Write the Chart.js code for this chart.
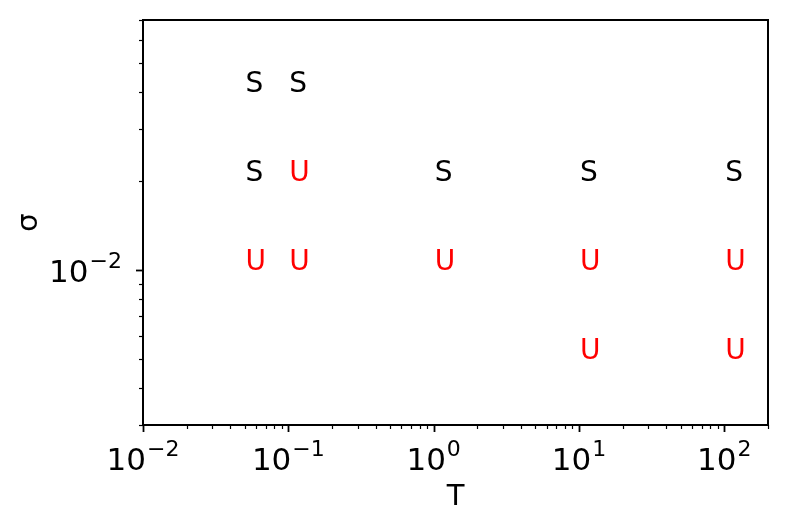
<!DOCTYPE html>
<html>
<head>
<meta charset="utf-8">
<script src="https://cdn.jsdelivr.net/npm/chart.js@4.4.0/dist/chart.umd.min.js"></script>
<style>
  html, body { margin: 0; padding: 0; background: #fff; }
  #wrap { width: 789px; height: 523px; }
</style>
</head>
<body>
<div id="wrap"><canvas id="chart" width="789" height="523"></canvas></div>
<script>
// stable runs ("S")
const stableT = [0.05, 0.1, 0.05, 1, 10, 100];
const stableSigma = [0.04, 0.04, 0.02, 0.02, 0.02, 0.02];
// unstable runs ("U")
const unstableT = [0.1, 0.05, 0.1, 1, 10, 100, 10, 100];
const unstableSigma = [0.02, 0.01, 0.01, 0.01, 0.01, 0.01, 0.005, 0.005];
// axis limits and labelled decades
const xLimits = [0.01, 200];
const yLimits = [0.003, 0.07];
const xTickExponents = [-2, -1, 0, 1, 2];
const yTickExponents = [-2];

const FONT = '"DejaVu Sans", sans-serif';

function drawPow(ctx, exp, x, y, align) {
    const base = '10';
    const sup = exp < 0 ? '\u2212' + Math.abs(exp) : String(exp);
    ctx.font = '31px ' + FONT;
    const wb = ctx.measureText(base).width;
    ctx.font = '22px ' + FONT;
    const ws = ctx.measureText(sup).width;
    const total = wb + ws + 1;
    let left = x;
    if (align === 'center') left = x - total / 2;
    else if (align === 'right') left = x - total;
    ctx.textAlign = 'left';
    ctx.textBaseline = 'alphabetic';
    ctx.fillStyle = '#000';
    ctx.font = '31px ' + FONT;
    ctx.fillText(base, left, y);
    ctx.font = '22px ' + FONT;
    ctx.fillText(sup, left + wb + 1, y - 14);
}

const axesPlugin = {
    id: 'mplAxes',
    afterDraw: (chart) => {
        const ctx = chart.ctx;
        const area = chart.chartArea;
        const xs = chart.scales.x;
        const ys = chart.scales.y;
        ctx.save();

        // text markers
        chart.data.datasets.forEach((ds) => {
            ctx.font = '28px ' + FONT;
            ctx.fillStyle = ds.textColor;
            ctx.textAlign = 'left';
            ctx.textBaseline = 'alphabetic';
            ds.data.forEach((p) => {
                ctx.fillText(ds.label, xs.getPixelForValue(p.x) + 1, ys.getPixelForValue(p.y));
            });
        });

        // ticks
        ctx.strokeStyle = '#000';
        for (let d = -3; d <= 2; d++) {
            for (let k = 1; k <= 9; k++) {
                const v = k * Math.pow(10, d);
                const major = k === 1;
                ctx.lineWidth = major ? 1.8 : 1.2;
                const len = major ? 7 : 4;
                if (v >= xLimits[0] && v <= xLimits[1]) {
                    const px = Math.round(xs.getPixelForValue(v)) + 0.5;
                    ctx.beginPath();
                    ctx.moveTo(px, area.bottom);
                    ctx.lineTo(px, area.bottom + len);
                    ctx.stroke();
                }
                if (v >= yLimits[0] && v <= yLimits[1]) {
                    const py = Math.round(ys.getPixelForValue(v)) + 0.5;
                    ctx.beginPath();
                    ctx.moveTo(area.left, py);
                    ctx.lineTo(area.left - len, py);
                    ctx.stroke();
                }
            }
        }

        // frame
        ctx.lineWidth = 2;
        ctx.strokeRect(area.left, area.top, area.right - area.left, area.bottom - area.top);

        // tick labels
        xTickExponents.forEach((e) => {
            drawPow(ctx, e, xs.getPixelForValue(Math.pow(10, e)), area.bottom + 45, 'center');
        });
        yTickExponents.forEach((e) => {
            drawPow(ctx, e, area.left - 21, ys.getPixelForValue(Math.pow(10, e)) + 12, 'right');
        });

        // axis titles
        ctx.fillStyle = '#000';
        ctx.font = '29px ' + FONT;
        ctx.textAlign = 'center';
        ctx.textBaseline = 'alphabetic';
        ctx.fillText('T', (area.left + area.right) / 2, 505);
        ctx.translate(37, (area.top + area.bottom) / 2);
        ctx.rotate(-Math.PI / 2);
        ctx.fillText('\u03c3', 0, 0);
        ctx.restore();
    }
};

const toPoints = (xsArr, ysArr) => xsArr.map((x, i) => ({ x: x, y: ysArr[i] }));

new Chart(document.getElementById('chart').getContext('2d'), {
    type: 'scatter',
    data: {
        datasets: [
            {
                label: 'S',
                data: toPoints(stableT, stableSigma),
                textColor: '#000000',
                pointRadius: 0
            },
            {
                label: 'U',
                data: toPoints(unstableT, unstableSigma),
                textColor: '#ff0000',
                pointRadius: 0
            }
        ]
    },
    options: {
        responsive: false,
        animation: false,
        layout: { padding: { left: 143, right: 21, top: 20, bottom: 98 } },
        plugins: { legend: { display: false }, tooltip: { enabled: false } },
        scales: {
            x: { type: 'logarithmic', min: xLimits[0], max: xLimits[1], display: false },
            y: { type: 'logarithmic', min: yLimits[0], max: yLimits[1], display: false }
        }
    },
    plugins: [axesPlugin]
});
</script>
</body>
</html>
